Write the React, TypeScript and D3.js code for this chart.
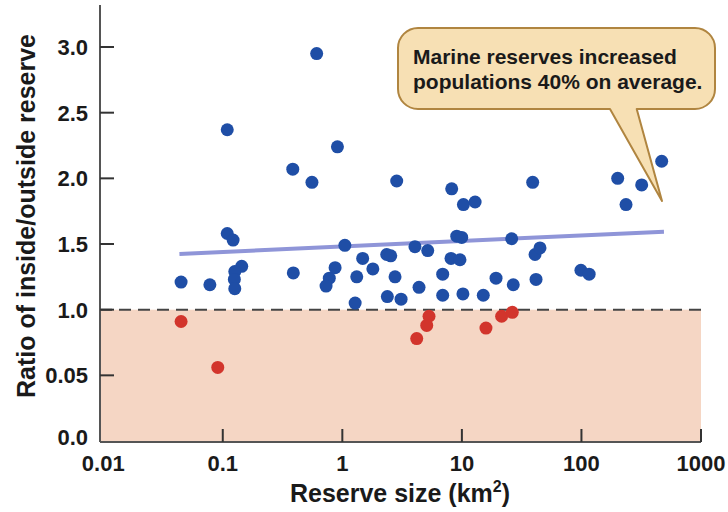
import React from "react";
import * as d3 from "d3";

// Reserve size (km²) and ratio inside/outside reserve
const blueSize = [
  0.61, 0.109, 0.91, 0.385, 0.557, 2.85, 0.109, 0.122, 1.05, 1.48, 2.35, 2.54,
  0.144, 0.126, 0.125, 0.126, 0.0448, 0.078, 0.389, 0.87, 0.778, 0.731, 1.32,
  1.8, 2.76, 1.28, 2.38, 3.1, 469, 8.22, 10.3, 12.9, 39.1, 201, 319, 236, 9.06,
  9.97, 26.1, 4.05, 5.18, 8.11, 9.64, 40.9, 45.0, 6.91, 4.38, 6.91, 10.2, 15.1,
  19.3, 26.9, 41.7, 99, 116,
];
const blueRatio = [
  2.95, 2.37, 2.24, 2.07, 1.97, 1.98, 1.58, 1.53, 1.49, 1.39, 1.42, 1.41, 1.33,
  1.29, 1.23, 1.16, 1.21, 1.19, 1.28, 1.32, 1.24, 1.18, 1.25, 1.31, 1.25, 1.05,
  1.1, 1.08, 2.13, 1.92, 1.8, 1.82, 1.97, 2.0, 1.95, 1.8, 1.56, 1.55, 1.54,
  1.48, 1.45, 1.39, 1.38, 1.42, 1.47, 1.27, 1.17, 1.11, 1.12, 1.11, 1.24, 1.19,
  1.23, 1.3, 1.27,
];
const redSize = [0.0448, 0.0908, 5.31, 5.08, 4.19, 15.9, 21.5, 26.4];
const redRatio = [0.91, 0.56, 0.95, 0.88, 0.78, 0.86, 0.95, 0.98];

const trendSize = [0.0434, 490];
const trendRatio = [1.424, 1.594];

const yTicks = [0, 0.5, 1, 1.5, 2, 2.5, 3];
const yTickLabels = ["0.0", "0.05", "1.0", "1.5", "2.0", "2.5", "3.0"];
const xTicks = [0.01, 0.1, 1, 10, 100, 1000];
const xTickLabels = ["0.01", "0.1", "1", "10", "100", "1000"];

const calloutLines = ["Marine reserves increased", "populations 40% on average."];

const W = 728;
const H = 512;
const FONT = "'Liberation Sans', Arial, Helvetica, sans-serif";

export default function App() {
  const x = d3.scaleLog().domain([0.0094, 1000]).range([100, 701]);
  const y = d3.scaleLinear().domain([0, 3.32]).range([441, 5]);

  const left = x.range()[0];
  const right = x.range()[1];
  const bottom = y(0);
  const top = y.range()[1];

  const line = d3
    .line<number>()
    .x((_, i) => x(trendSize[i]))
    .y((d) => y(d));

  // callout geometry
  const bx0 = 398, bx1 = 715, by0 = 28, by1 = 109, r = 20;
  const tipX = 662, tipY = 201, baseL = 610, baseR = 636.7;
  const callout = `M${bx0 + r},${by0} H${bx1 - r} A${r},${r} 0 0 1 ${bx1},${by0 + r} V${by1 - r} A${r},${r} 0 0 1 ${bx1 - r},${by1} H${baseR} L${tipX},${tipY} L${baseL},${by1} H${bx0 + r} A${r},${r} 0 0 1 ${bx0},${by1 - r} V${by0 + r} A${r},${r} 0 0 1 ${bx0 + r},${by0} Z`;

  return (
    <svg
      width={W}
      height={H}
      style={{ position: "absolute", left: 0, top: 0, display: "block", background: "#fff" }}
      fontFamily={FONT}
    >
      {/* shaded region below 1.0 */}
      <rect x={left} y={y(1)} width={right - left} height={bottom - y(1)} fill="#f5d6c4" />
      {/* dashed reference line */}
      <line x1={left} x2={right} y1={y(1)} y2={y(1)} stroke="#444" strokeWidth={2} strokeDasharray="12,7" />

      {/* axes */}
      <line x1={left} x2={left} y1={top} y2={bottom + 1} stroke="#555" strokeWidth={2} />
      <line x1={left} x2={right} y1={bottom + 1} y2={bottom + 1} stroke="#555" strokeWidth={2} />

      {yTicks.map((t, i) => (
        <g key={"yt" + i}>
          {t > 0 && <line x1={left} x2={left + 14} y1={y(t)} y2={y(t)} stroke="#333" strokeWidth={2} />}
          <text
            x={88}
            y={y(t)}
            dy={t === 0 ? "0.2em" : "0.36em"}
            textAnchor="end"
            fontSize={22}
            fontWeight="bold"
            fill="#1a1a1a"
          >
            {yTickLabels[i]}
          </text>
        </g>
      ))}

      {xTicks.map((t, i) => (
        <g key={"xt" + i}>
          {i > 0 && <line x1={x(t)} x2={x(t)} y1={bottom + 1} y2={bottom - 12} stroke="#333" strokeWidth={2} />}
          <text x={x(t)} y={471} textAnchor="middle" fontSize={22} fontWeight="bold" fill="#1a1a1a">
            {xTickLabels[i]}
          </text>
        </g>
      ))}

      {/* axis titles */}
      <text
        transform={`translate(35,${(top + bottom) / 2 - 7}) rotate(-90)`}
        textAnchor="middle"
        fontSize={25}
        fontWeight="bold"
        fill="#1a1a1a"
      >
        Ratio of inside/outside reserve
      </text>
      <text x={400} y={502} textAnchor="middle" fontSize={25} fontWeight="bold" fill="#1a1a1a">
        Reserve size (km
        <tspan fontSize={16} dy={-10}>2</tspan>
        <tspan dy={10}>)</tspan>
      </text>

      {/* trend line */}
      <path d={line(trendRatio) || ""} fill="none" stroke="#8f95d8" strokeWidth={4} />

      {/* points */}
      {blueSize.map((s, i) => (
        <circle key={"b" + i} cx={x(s)} cy={y(blueRatio[i])} r={6.5} fill="#1f4ea6" />
      ))}
      {redSize.map((s, i) => (
        <circle key={"r" + i} cx={x(s)} cy={y(redRatio[i])} r={6.5} fill="#d2352c" />
      ))}

      {/* callout */}
      <path d={callout} fill="#f7e0b4" stroke="#b08540" strokeWidth={2} strokeLinejoin="round" />
      {calloutLines.map((l, i) => (
        <text key={"c" + i} x={413} y={64 + i * 25} fontSize={21} fontWeight="bold" fill="#1a1a1a">
          {l}
        </text>
      ))}
    </svg>
  );
}
